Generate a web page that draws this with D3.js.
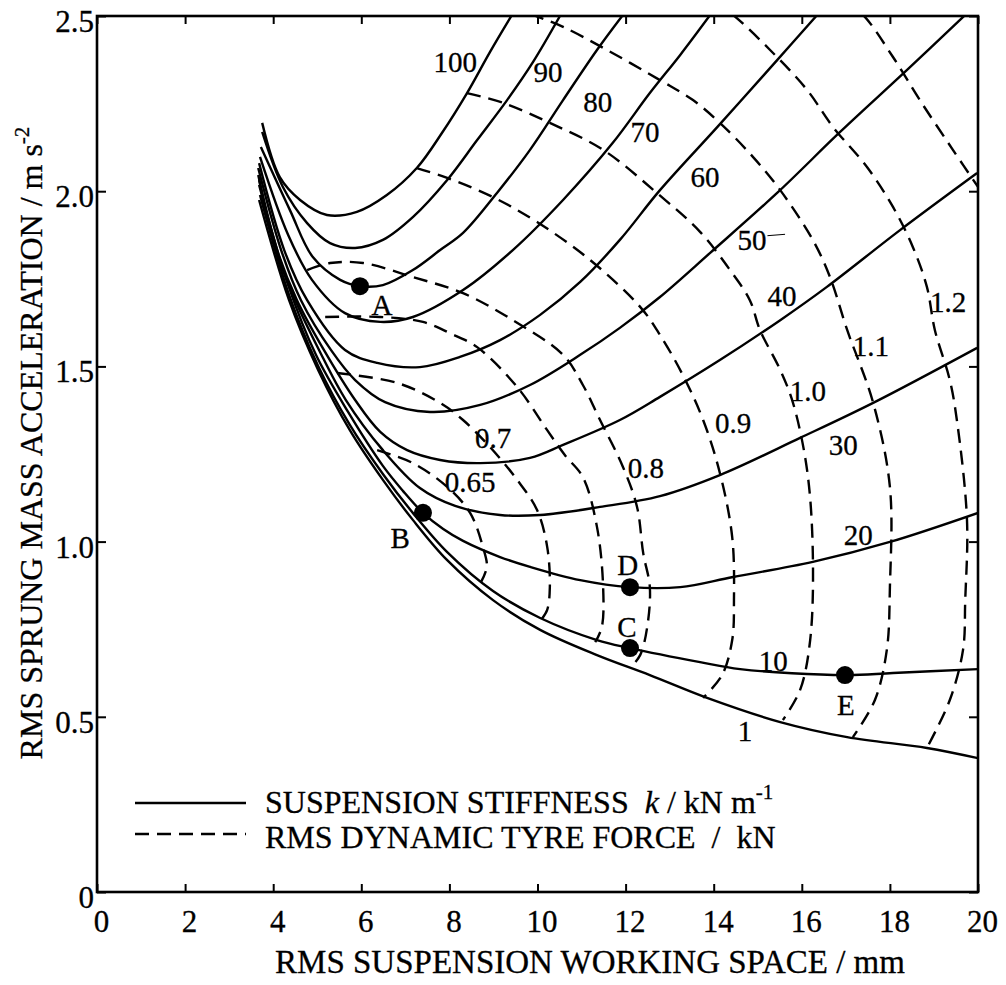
<!DOCTYPE html>
<html>
<head>
<meta charset="utf-8">
<script src="https://cdn.jsdelivr.net/npm/d3@7"></script>
<style>
  body { margin: 0; background: #fff; }
  svg text { font-family: "Liberation Serif", "Times New Roman", serif; fill: #000; stroke: #000; stroke-width: 0.3px; white-space: pre; }
</style>
</head>
<body>
<div id="chart"></div>
<script>
// suspension stiffness k / kN m-1, one solid curve each: [working space mm, acceleration m s-2]
const stiffnessValues = ["100", "90", "80", "70", "60", "50", "40", "30", "20", "10", "1"];
const stiffnessCurves = [
    [[3.75,2.195],[4.15,2.04],[4.61,1.975],[5.22,1.932],[5.90,1.941],[6.58,1.989],[7.26,2.066],[7.83,2.166],[8.40,2.28],[8.92,2.397],[9.42,2.503]],
    [[3.75,2.169],[4.22,2.012],[4.77,1.909],[5.29,1.852],[5.86,1.838],[6.49,1.861],[7.17,1.926],[7.95,2.032],[8.63,2.146],[9.31,2.26],[9.90,2.369],[10.51,2.50]],
    [[3.72,2.126],[4.38,1.946],[4.90,1.812],[5.52,1.747],[5.97,1.729],[6.49,1.732],[7.17,1.775],[7.79,1.832],[8.31,1.881],[9.08,1.995],[9.83,2.118],[10.58,2.26],[11.35,2.403],[11.94,2.503]],
    [[3.70,2.098],[4.34,1.875],[4.88,1.747],[5.63,1.652],[6.43,1.627],[7.17,1.641],[8.31,1.718],[9.44,1.832],[10.58,1.975],[11.71,2.138],[12.55,2.28],[13.24,2.389],[13.92,2.503]],
    [[3.68,2.08],[4.25,1.832],[4.77,1.689],[5.63,1.547],[6.36,1.51],[7.33,1.498],[8.24,1.527],[9.15,1.575],[10.06,1.647],[10.97,1.741],[11.87,1.861],[12.78,2.003],[14.08,2.183],[15.44,2.374],[16.35,2.503]],
    [[3.66,2.066],[4.18,1.832],[4.63,1.689],[5.31,1.547],[5.86,1.461],[6.54,1.398],[7.56,1.37],[8.70,1.39],[9.83,1.447],[10.97,1.533],[11.87,1.61],[12.78,1.698],[13.92,1.824],[15.44,1.995],[16.87,2.169],[18.39,2.346],[19.71,2.503]],
    [[3.66,2.046],[4.09,1.832],[4.54,1.689],[5.15,1.547],[5.86,1.404],[6.43,1.313],[7.04,1.261],[7.79,1.233],[8.70,1.224],[9.83,1.239],[10.58,1.276],[11.87,1.347],[12.78,1.413],[14.14,1.518],[15.51,1.632],[16.57,1.727],[18.23,1.889],[19.98,2.052]],
    [[3.68,2.032],[4.06,1.832],[4.50,1.689],[5.04,1.547],[5.65,1.404],[6.49,1.261],[7.33,1.153],[8.13,1.102],[9.15,1.076],[10.06,1.076],[11.42,1.099],[12.78,1.13],[14.14,1.19],[15.96,1.296],[17.62,1.396],[19.98,1.553]],
    [[3.68,2.018],[4.34,1.732],[4.97,1.533],[5.70,1.37],[6.49,1.216],[6.95,1.144],[7.40,1.082],[7.86,1.036],[8.31,1.002],[9.15,0.956],[9.83,0.928],[10.97,0.89],[12.10,0.87],[13.24,0.87],[14.44,0.899],[16.25,0.942],[18.00,0.999],[20.0,1.082]],
    [[3.70,1.989],[4.36,1.704],[5.02,1.501],[5.74,1.333],[6.49,1.193],[7.17,1.082],[7.95,0.97],[8.99,0.859],[10.06,0.782],[11.35,0.719],[12.10,0.696],[13.69,0.656],[14.60,0.636],[16.98,0.619],[18.07,0.625],[20.0,0.636]],
    [[3.68,1.975],[4.36,1.689],[5.02,1.49],[5.74,1.318],[6.49,1.176],[7.17,1.062],[7.95,0.947],[8.99,0.833],[10.06,0.748],[11.35,0.676],[12.55,0.619],[13.85,0.554],[15.51,0.485],[17.03,0.442],[18.84,0.411],[20.0,0.382]]
];
const stiffnessLabelAt = [[8.13,2.37],[10.24,2.34],[11.37,2.255],[12.44,2.17],[13.80,2.04],[14.87,1.86],[15.55,1.70],[16.94,1.275],[17.28,1.02],[15.35,0.66],[14.71,0.46]];

// RMS dynamic tyre force / kN, one dashed curve each (two carry no label in the figure)
const forceLabels = ["0.65", "0.7", "", "0.8", "0.9", "1.0", "1.1", "1.2", ""];
const forceCurves = [
    [[6.36,1.261],[7.17,1.224],[7.95,1.156],[8.47,1.082],[8.76,0.985],[8.85,0.928],[8.72,0.885]],
    [[5.45,1.481],[6.81,1.453],[7.79,1.396],[8.31,1.347],[8.92,1.27],[9.54,1.176],[9.99,1.09],[10.22,0.985],[10.28,0.87],[10.22,0.805],[10.08,0.776]],
    [[5.18,1.641],[6.43,1.641],[7.40,1.627],[8.01,1.595],[8.63,1.555],[9.54,1.441],[10.22,1.318],[10.62,1.247],[11.03,1.184],[11.35,1.042],[11.49,0.87],[11.46,0.756],[11.31,0.713]],
    [[4.77,1.775],[5.29,1.795],[6.04,1.795],[7.17,1.755],[8.31,1.709],[9.44,1.632],[10.58,1.533],[11.03,1.447],[11.42,1.347],[11.94,1.213],[12.26,1.099],[12.40,0.967],[12.55,0.87],[12.49,0.756],[12.33,0.676],[12.10,0.639]],
    [[7.26,2.066],[7.95,2.038],[8.99,1.983],[9.99,1.912],[11.19,1.804],[12.33,1.67],[12.78,1.59],[13.30,1.475],[13.76,1.347],[14.14,1.196],[14.42,1.013],[14.46,0.833],[14.42,0.719],[14.19,0.619],[13.76,0.554]],
    [[8.40,2.28],[9.22,2.252],[10.28,2.195],[11.49,2.118],[12.71,1.995],[13.69,1.884],[14.37,1.775],[14.82,1.689],[15.05,1.604],[15.51,1.49],[15.80,1.396],[16.12,1.204],[16.25,0.967],[16.19,0.719],[15.96,0.576],[15.57,0.491]],
    [[9.38,2.531],[9.90,2.503],[10.58,2.469],[11.58,2.403],[12.78,2.317],[13.53,2.26],[14.14,2.195],[14.89,2.098],[15.51,2.003],[16.25,1.861],[16.64,1.755],[17.03,1.604],[17.62,1.396],[18.00,1.156],[18.00,0.87],[17.93,0.691],[17.66,0.548],[17.16,0.442]],
    [[14.03,2.54],[14.44,2.503],[15.28,2.403],[16.12,2.289],[16.71,2.183],[17.48,2.069],[18.07,1.955],[18.52,1.841],[18.84,1.727],[19.02,1.604],[19.36,1.461],[19.52,1.347],[19.75,1.062],[19.71,0.833],[19.66,0.691],[19.36,0.548],[18.84,0.411]],
    [[16.98,2.54],[17.39,2.503],[18.07,2.383],[18.68,2.26],[19.43,2.118],[20.05,2.003]]
];
const forceLabelAt = [[8.47,1.17],[8.99,1.295],null,[12.46,1.21],[14.44,1.34],[16.14,1.43],[17.57,1.56],[19.32,1.685],null];

// marked design points and where their letters sit
const pointNames = ["A", "B", "C", "D", "E"];
const pointValues = [[5.97,1.729],[7.40,1.082],[12.10,0.696],[12.10,0.87],[16.98,0.619]];
const pointLabelAt = [[6.47,1.675],[6.88,1.01],[12.03,0.756],[12.05,0.933],[17.0,0.534]];

const xTicks = [0, 2, 4, 6, 8, 10, 12, 14, 16, 18, 20];
const yTicks = [0, 0.5, 1.0, 1.5, 2.0, 2.5];

const dims = { width: 1006, height: 985, left: 97, right: 978, top: 16, bottom: 892 };

const x = d3.scaleLinear().domain([0, 20]).range([dims.left, dims.right]);
const y = d3.scaleLinear().domain([0, 2.5]).range([dims.bottom, dims.top]);

const svg = d3.select("#chart")
    .append("svg")
    .attr("width", dims.width)
    .attr("height", dims.height);

svg.append("defs").append("clipPath").attr("id", "plot")
    .append("rect")
    .attr("x", x(0)).attr("y", y(2.5))
    .attr("width", x(20) - x(0)).attr("height", y(0) - y(2.5));

const line = d3.line()
    .x(d => x(d[0]))
    .y(d => y(d[1]))
    .curve(d3.curveCatmullRom.alpha(0.5));

const curves = svg.append("g")
    .attr("clip-path", "url(#plot)")
    .attr("fill", "none")
    .attr("stroke", "#000")
    .attr("stroke-width", 2.4)
    .attr("stroke-linejoin", "round");

curves.selectAll("path.k")
    .data(stiffnessCurves)
    .join("path")
    .attr("class", "k")
    .attr("d", line);

curves.selectAll("path.f")
    .data(forceCurves)
    .join("path")
    .attr("class", "f")
    .attr("stroke-dasharray", "14,8")
    .attr("d", line);

// axes: inward ticks on all four sides, labels only bottom and left
const styleAxis = g => {
    g.select(".domain").remove();
    g.attr("font-size", 31).attr("font-family", '"Liberation Serif", serif');
    g.selectAll(".tick line").attr("stroke-width", 2);
};
svg.append("g")
    .attr("transform", `translate(0,${y(0)})`)
    .call(d3.axisBottom(x).tickValues(xTicks).tickSize(-8).tickPadding(18).tickFormat(d3.format("d")))
    .call(styleAxis)
    .call(g => g.selectAll("text").attr("dx", 4));
svg.append("g")
    .attr("transform", `translate(0,${y(2.5)})`)
    .call(d3.axisTop(x).tickValues(xTicks).tickSize(-8).tickFormat(""))
    .call(styleAxis);
svg.append("g")
    .attr("transform", `translate(${x(0)},0)`)
    .call(d3.axisLeft(y).tickValues(yTicks).tickSize(-9).tickPadding(3)
        .tickFormat(d => d === 0 ? "0" : d3.format(".1f")(d)))
    .call(styleAxis)
    .call(g => g.selectAll("text").attr("dy", "0.5em"));
svg.append("g")
    .attr("transform", `translate(${x(20)},0)`)
    .call(d3.axisRight(y).tickValues(yTicks).tickSize(-9).tickFormat(""))
    .call(styleAxis);

svg.append("rect")
    .attr("x", x(0)).attr("y", y(2.5))
    .attr("width", x(20) - x(0)).attr("height", y(0) - y(2.5))
    .attr("fill", "none")
    .attr("stroke", "#000")
    .attr("stroke-width", 2.6);

// curve labels
svg.append("g")
    .attr("font-size", 29)
    .attr("text-anchor", "middle")
    .selectAll("text")
    .data(stiffnessValues)
    .join("text")
    .attr("x", (d, i) => x(stiffnessLabelAt[i][0]))
    .attr("y", (d, i) => y(stiffnessLabelAt[i][1]))
    .attr("dy", "0.35em")
    .text(d => d);

// little leader after the 50
svg.append("line")
    .attr("x1", x(15.22)).attr("y1", y(1.873))
    .attr("x2", x(15.62)).attr("y2", y(1.877))
    .attr("stroke", "#000").attr("stroke-width", 1);

svg.append("g")
    .attr("font-size", 29)
    .attr("text-anchor", "middle")
    .selectAll("text")
    .data(forceLabels.filter(d => d !== ""))
    .join("text")
    .attr("x", d => x(forceLabelAt[forceLabels.indexOf(d)][0]))
    .attr("y", d => y(forceLabelAt[forceLabels.indexOf(d)][1]))
    .attr("dy", "0.35em")
    .text(d => d);

// design points
svg.append("g")
    .selectAll("circle")
    .data(pointValues)
    .join("circle")
    .attr("cx", d => x(d[0]))
    .attr("cy", d => y(d[1]))
    .attr("r", 9)
    .attr("fill", "#000");

svg.append("g")
    .attr("font-size", 29)
    .attr("text-anchor", "middle")
    .selectAll("text")
    .data(pointNames)
    .join("text")
    .attr("x", (d, i) => x(pointLabelAt[i][0]))
    .attr("y", (d, i) => y(pointLabelAt[i][1]))
    .attr("dy", "0.35em")
    .text(d => d);

// legend
const legend = svg.append("g").attr("font-size", 32);
legend.append("line")
    .attr("x1", 135).attr("x2", 246).attr("y1", 803).attr("y2", 803)
    .attr("stroke", "#000").attr("stroke-width", 2.4);
legend.append("line")
    .attr("x1", 135).attr("x2", 246).attr("y1", 834).attr("y2", 834)
    .attr("stroke", "#000").attr("stroke-width", 2.4).attr("stroke-dasharray", "14,8");
const t1 = legend.append("text").attr("x", 265).attr("y", 813);
t1.append("tspan").text("SUSPENSION STIFFNESS  ");
t1.append("tspan").attr("font-style", "italic").text("k");
t1.append("tspan").text(" / kN m");
t1.append("tspan").attr("font-size", 21).attr("dy", -14).text("-1");
legend.append("text").attr("x", 265).attr("y", 848).text("RMS DYNAMIC TYRE FORCE  /  kN");

// axis titles
svg.append("text")
    .attr("x", 590).attr("y", 973)
    .attr("text-anchor", "middle")
    .attr("font-size", 33)
    .text("RMS SUSPENSION WORKING SPACE / mm");

const yt = svg.append("text")
    .attr("transform", "translate(42,443) rotate(-90)")
    .attr("text-anchor", "middle")
    .attr("font-size", 32);
yt.append("tspan").text("RMS SPRUNG MASS ACCELERATION / m s");
yt.append("tspan").attr("font-size", 21).attr("dy", -13).text("-2");
</script>
</body>
</html>
